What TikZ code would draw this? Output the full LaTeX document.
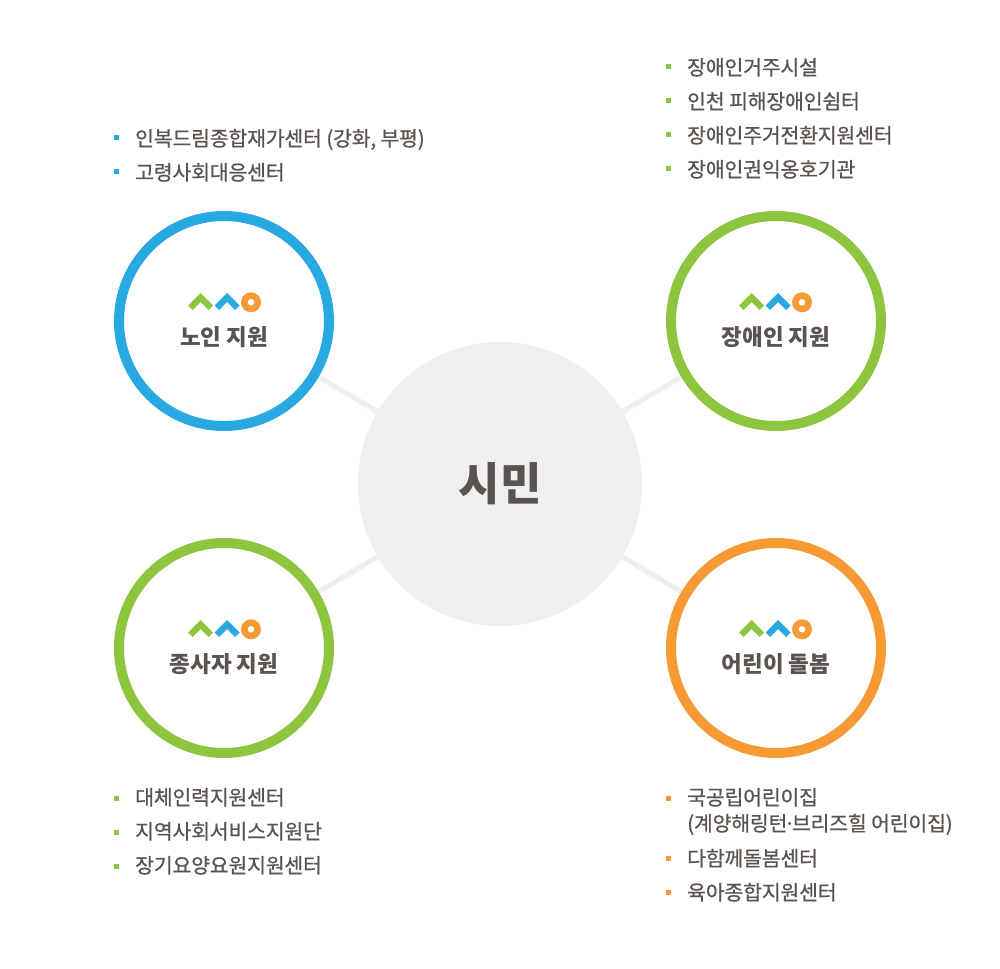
\documentclass[tikz,border=0pt]{standalone}
\usepackage{fontspec}
\setmainfont{Noto Sans CJK KR}
\newfontfamily\krlist[FakeBold=0.7,LetterSpace=-1]{Noto Sans CJK KR}
\usetikzlibrary{backgrounds}
\definecolor{txt}{HTML}{59544F}
\definecolor{bluec}{HTML}{29A9E1}
\definecolor{greenc}{HTML}{8EC53F}
\definecolor{orangec}{HTML}{F59A34}
\definecolor{hub}{HTML}{EFEFEF}
\tikzset{
  x=1pt,y=-1pt,
  ring/.style={circle,draw=#1,line width=10pt,fill=white,minimum size=210pt,inner sep=0pt},
  hubnode/.style={circle,fill=hub,minimum size=284pt,inner sep=0pt,text=txt,font=\fontsize{45}{45}\selectfont\bfseries},
  spoke/.style={draw=hub,line width=5pt},
  title/.style={text=txt,inner sep=0pt,font=\fontsize{22.5}{24}\selectfont\bfseries},
  item/.style={anchor=base west,inner sep=0pt,text=txt,font=\fontsize{20.5}{24}\krlist},
  mark square/.style={fill=#1,minimum size=5pt,inner sep=0pt,rectangle},
  pics/chevron/.style={code={
    \fill[#1] (0,-8.7) -- (12.5,3.8) -- (8,8.3) -- (0,0.3) -- (-8,8.3) -- (-12.5,3.8) -- cycle;
  }},
  pics/logo/.style={code={
    \pic at (-23.3,-19.3) {chevron=greenc};
    \pic at (3.2,-19.3) {chevron=bluec};
    \fill[orangec,even odd rule] (27,-18.7) circle (10) (27,-18.7) circle (3.4);
  }}
}
\begin{document}
\begin{tikzpicture}
\useasboundingbox (0,0) rectangle (1000,968);
\node[hubnode] (hub) at (500,484) {\raisebox{-2pt}{시민}};
\node[ring=bluec] (elder) at (224,321) {};
\node[ring=greenc] (disabled) at (776,321) {};
\node[ring=greenc] (worker) at (224,648) {};
\node[ring=orangec] (child) at (776,648) {};
\begin{scope}[on background layer]
\fill[white] (0,0) rectangle (1000,968);
\draw[spoke] (hub) -- (elder);
\draw[spoke] (hub) -- (disabled);
\draw[spoke] (hub) -- (worker);
\draw[spoke] (hub) -- (child);
\end{scope}
\pic at (224,321) {logo};
\pic at (775,321) {logo};
\pic at (224,648) {logo};
\pic at (775,648) {logo};
\node[title] (t1) at (224,337.5) {노인 지원};
\node[title] (t2) at (776,337.5) {장애인 지원};
\node[title] (t3) at (224,664.5) {종사자 지원};
\node[title] (t4) at (776,664.5) {어린이 돌봄};
% elder list
\node[mark square=bluec] (b11) at (116.5,138) {};
\node[item] (l11) at (135,146) {인복드림종합재가센터 (강화, 부평)};
\node[mark square=bluec] (b12) at (116.5,172) {};
\node[item] (l12) at (135,180) {고령사회대응센터};
% disabled list
\node[mark square=greenc] (b21) at (668.5,67) {};
\node[item] (l21) at (687,75) {장애인거주시설};
\node[mark square=greenc] (b22) at (668.5,101) {};
\node[item] (l22) at (687,109) {인천 피해장애인쉼터};
\node[mark square=greenc] (b23) at (668.5,135) {};
\node[item] (l23) at (687,143) {장애인주거전환지원센터};
\node[mark square=greenc] (b24) at (668.5,169) {};
\node[item] (l24) at (687,177) {장애인권익옹호기관};
% worker list
\node[mark square=greenc] (b31) at (116.5,798) {};
\node[item] (l31) at (135,805) {대체인력지원센터};
\node[mark square=greenc] (b32) at (116.5,832) {};
\node[item] (l32) at (135,839) {지역사회서비스지원단};
\node[mark square=greenc] (b33) at (116.5,866) {};
\node[item] (l33) at (135,873) {장기요양요원지원센터};
% child list
\node[mark square=orangec] (b41) at (668.5,798) {};
\node[item] (l41) at (687,805) {국공립어린이집};
\node[item] (l41b) at (687,831) {(계양해링턴\kern-3.5pt·\kern-3.5pt브리즈힐 어린이집)};
\node[mark square=orangec] (b42) at (668.5,858) {};
\node[item] (l42) at (687,866) {다함께돌봄센터};
\node[mark square=orangec] (b43) at (668.5,892) {};
\node[item] (l43) at (687,900) {육아종합지원센터};
\end{tikzpicture}
\end{document}
